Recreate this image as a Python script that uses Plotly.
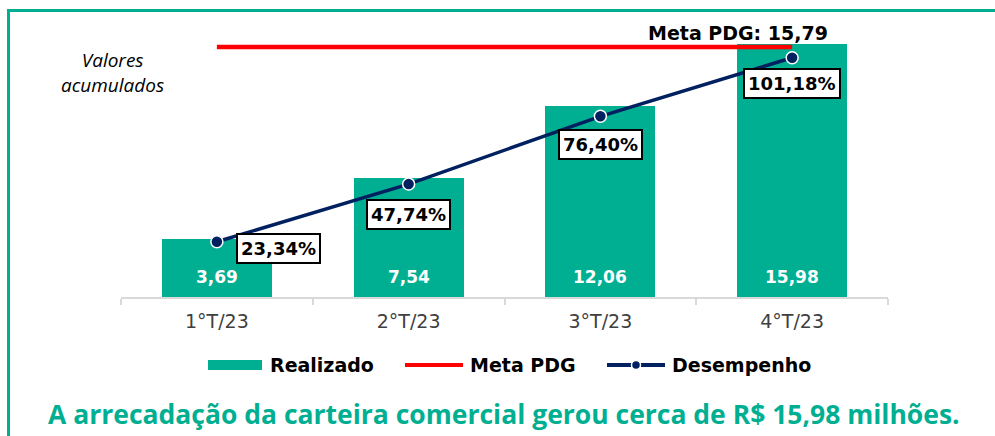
import plotly.graph_objects as go

# ---- data ----
categories = ["1°T/23", "2°T/23", "3°T/23", "4°T/23"]
realizado = [3.69, 7.54, 12.06, 15.98]
meta_pdg = 15.79
desempenho = [23.34, 47.74, 76.40, 101.18]
legend_names = ["Realizado", "Meta PDG", "Desempenho"]
note_text = "Valores<br>acumulados"
footer_text = "A arrecadação da carteira comercial gerou cerca de R$ 15,98 milhões."

# ---- styling ----
TEAL = "#00AF91"
NAVY = "#002060"
RED = "#FF0000"
W, H = 995, 436
L, R, T, B = 121, 888, 30, 297   # plot-area pixel box

def px(x):
    return (x - L) / (R - L)

def py(y):
    return (B - y) / (B - T)

def br(v):
    return f"{v:.2f}".replace(".", ",")

fig = go.Figure()

fig.add_trace(go.Bar(
    x=categories, y=realizado, name=legend_names[0],
    marker=dict(color=TEAL, line=dict(width=0)), width=0.573,
    showlegend=False, hoverinfo="skip",
))
fig.add_trace(go.Scatter(
    x=categories, y=[meta_pdg] * len(categories), name=legend_names[1],
    mode="lines", line=dict(color=RED, width=4.5),
    showlegend=False, hoverinfo="skip",
))
fig.add_trace(go.Scatter(
    x=categories, y=desempenho, name=legend_names[2], yaxis="y2",
    mode="lines+markers", line=dict(color=NAVY, width=3.5),
    marker=dict(color=NAVY, size=12, line=dict(color="white", width=1.5)),
    showlegend=False, hoverinfo="skip",
))

annotations = []
# bar value labels (inside, near the base)
for c, v in zip(categories, realizado):
    annotations.append(dict(
        x=c, y=0, xref="x", yref="y", text=br(v), showarrow=False,
        yanchor="middle", yshift=20,
        font=dict(family="DejaVu Sans", size=17, color="white", weight="bold"),
    ))
# percentage boxes
pct_shift = [(62, -7), (0, -30), (0, -28), (0, -26)]
for c, v, (dx, dy) in zip(categories, desempenho, pct_shift):
    annotations.append(dict(
        x=c, y=v, xref="x", yref="y2", text=br(v) + "%", showarrow=False,
        xshift=dx, yshift=dy, xanchor="center", yanchor="middle",
        bgcolor="white", bordercolor="black", borderwidth=2, borderpad=3,
        font=dict(family="DejaVu Sans", size=18, color="black", weight="bold"),
    ))
# meta label
annotations.append(dict(
    x=categories[-1], y=meta_pdg, xref="x", yref="y",
    text=f"Meta PDG: {br(meta_pdg)}", showarrow=False,
    xanchor="right", xshift=38, yanchor="bottom", yshift=1,
    font=dict(family="DejaVu Sans", size=19, color="black", weight="bold"),
))
# note
annotations.append(dict(
    x=px(112), y=py(72), xref="paper", yref="paper", text=note_text,
    showarrow=False, xanchor="center", yanchor="middle",
    font=dict(family="Open Sans", size=19, color="black", style="italic"),
))
# footer
annotations.append(dict(
    x=px(504), y=py(414), xref="paper", yref="paper", text=footer_text,
    showarrow=False, xanchor="center", yanchor="middle",
    font=dict(family="Open Sans", size=26.5, color=TEAL, weight="bold"),
))

shapes = [
    # frame (top and left)
    dict(type="line", xref="paper", yref="paper", x0=px(7), x1=px(1000),
         y0=py(10.5), y1=py(10.5), line=dict(color=TEAL, width=3)),
    dict(type="line", xref="paper", yref="paper", x0=px(8.5), x1=px(8.5),
         y0=py(9), y1=py(440), line=dict(color=TEAL, width=3)),
]

# manual legend
ly = 365
shapes.append(dict(type="rect", xref="paper", yref="paper",
                   x0=px(208), x1=px(262), y0=py(360), y1=py(370),
                   fillcolor=TEAL, line=dict(width=0)))
shapes.append(dict(type="line", xref="paper", yref="paper",
                   x0=px(405), x1=px(463), y0=py(ly), y1=py(ly),
                   line=dict(color=RED, width=4)))
shapes.append(dict(type="line", xref="paper", yref="paper",
                   x0=px(607), x1=px(665), y0=py(ly), y1=py(ly),
                   line=dict(color=NAVY, width=4)))
shapes.append(dict(type="circle", xref="paper", yref="paper",
                   x0=px(631.5), x1=px(640.5), y0=py(ly - 4.5), y1=py(ly + 4.5),
                   fillcolor=NAVY, line=dict(color="white", width=1.5)))
for name, lx in zip(legend_names, [268, 468, 670]):
    annotations.append(dict(
        x=px(lx), y=py(ly), xref="paper", yref="paper", text=name,
        showarrow=False, xanchor="left", yanchor="middle",
        font=dict(family="DejaVu Sans", size=19, color="black", weight="bold"),
    ))

fig.update_layout(
    width=W, height=H,
    margin=dict(l=L, r=W - R, t=T, b=H - B, pad=0),
    paper_bgcolor="white", plot_bgcolor="white",
    showlegend=False,
    xaxis=dict(
        type="category", range=[-0.5, 3.5],
        showline=True, linecolor="#D9D9D9", linewidth=2,
        ticks="outside", tickson="boundaries", ticklen=6, tickcolor="#D9D9D9", tickwidth=2,
        ticklabelstandoff=6,
        showgrid=False, zeroline=False,
        tickfont=dict(family="DejaVu Sans", size=19, color="#404040"),
    ),
    yaxis=dict(range=[0, 16.87], visible=False, showgrid=False, zeroline=False),
    yaxis2=dict(range=[0, 112.9], overlaying="y", visible=False, showgrid=False, zeroline=False),
    annotations=annotations,
    shapes=shapes,
    bargap=0,
)

fig.write_html(
    "out.html",
    config={"displayModeBar": False, "staticPlot": True},
    post_script="document.documentElement.style.margin='0';document.body.style.margin='0';document.body.style.overflow='hidden';",
)
